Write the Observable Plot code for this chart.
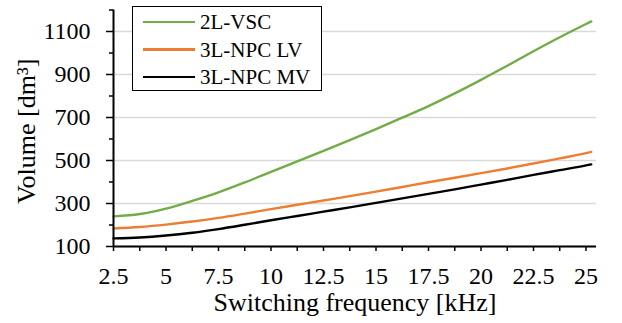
<!DOCTYPE html>
<html><head><meta charset="utf-8">
<script src="https://cdn.jsdelivr.net/npm/d3@7"></script>
<script src="https://cdn.jsdelivr.net/npm/@observablehq/plot@0.6"></script>
<style>
body{margin:0;background:#fff;}
#chart{position:relative;width:622px;height:323px;font-family:"Liberation Serif","Times New Roman",serif;color:#000;}
.lg{position:absolute;}
</style></head><body><div id="chart"></div>
<script>
const freq   = [2.5, 3.75, 5, 6.25, 7.5, 8.75, 10, 11.25, 12.5, 13.75, 15, 16.25, 17.5, 18.75, 20, 21.25, 22.5, 23.75, 25, 25.25];
const vsc2L  = [240, 251, 276, 312, 352, 398, 447, 496, 545, 595, 646, 699, 753, 812, 875, 941, 1008, 1073, 1135, 1147];
const npcLV  = [184, 191, 202, 216, 233, 253, 274, 294, 314, 334, 355, 377, 399, 420, 441, 463, 486, 510, 534, 540];
const npcMV  = [138, 142, 151, 164, 181, 201, 222, 242, 262, 282, 303, 324, 345, 366, 388, 410, 433, 455, 477, 482];
const seriesNames  = ["2L-VSC", "3L-NPC LV", "3L-NPC MV"];
const seriesColors = ["#70AD47", "#ED7D31", "#000000"];
const xTicks      = [2.5, 5, 7.5, 10, 12.5, 15, 17.5, 20, 22.5, 25];
const xMinorTicks = [3.75, 6.25, 8.75, 11.25, 13.75, 16.25, 18.75, 21.25, 23.75];
const yTicks      = [100, 300, 500, 700, 900, 1100];
const yMinorTicks = [200, 400, 600, 800, 1000, 1200];
const xLabel = "Switching frequency [kHz]";
const yLabel = "Volume [dm³]";

const seriesValues = [vsc2L, npcLV, npcMV];
const rows = [];
seriesNames.forEach((s, i) => freq.forEach((f, j) => rows.push({series: s, f, v: seriesValues[i][j]})));
const fmt = d => String(d);

const chart = Plot.plot({
  width: 622, height: 323,
  marginLeft: 113, marginRight: 26, marginTop: 9.5, marginBottom: 77,
  x: {domain: [2.5, 25.5]},
  y: {domain: [100, 1200]},
  color: {domain: seriesNames, range: seriesColors},
  style: {fontFamily: "'Liberation Serif', 'Times New Roman', serif", fontSize: "23px", color: "#000", background: "white", overflow: "visible"},
  marks: [
    Plot.gridY(yTicks, {stroke: "#d9d9d9", strokeOpacity: 1, strokeWidth: 1.4}),
    Plot.line(rows, {x: "f", y: "v", z: "series", stroke: "series", strokeWidth: 2.4, curve: "monotone-x"}),
    Plot.axisY(yTicks, {tickSize: 7, tickPadding: 16, tickFormat: fmt, label: null, strokeWidth: 1.5, fontSize: 24}),
    Plot.axisY(yMinorTicks, {tickSize: 4, text: null, label: null, strokeWidth: 1.5}),
    Plot.axisX(xTicks, {tickSize: 5, tickPadding: 15, tickFormat: fmt, label: null, strokeWidth: 1.5, fontSize: 24}),
    Plot.axisX(xMinorTicks, {tickSize: 5, text: null, label: null, strokeWidth: 1.5}),
    Plot.ruleX([2.5], {strokeWidth: 2}),
    Plot.ruleY([100], {strokeWidth: 2}),
    Plot.text([xLabel], {frameAnchor: "bottom", dy: 64, fontSize: 26, fill: "#000"}),
    Plot.text([yLabel], {frameAnchor: "left", textAnchor: "middle", rotate: -90, dx: -87, dy: 3, fontSize: 26, fill: "#000"})
  ]
});
const root = document.getElementById("chart");
root.appendChild(chart);

// legend overlay
const box = document.createElement("div");
box.className = "lg";
Object.assign(box.style, {left: "132px", top: "6px", width: "190px", height: "85px", boxSizing: "border-box", border: "1.6px solid #000", background: "#fff"});
root.appendChild(box);
const rowY = [22, 49.5, 77];
seriesNames.forEach((s, i) => {
  const sw = document.createElement("div");
  sw.className = "lg";
  Object.assign(sw.style, {left: "143px", top: (rowY[i] - 1.25) + "px", width: "52px", height: "2.5px", background: seriesColors[i]});
  root.appendChild(sw);
  const t = document.createElement("div");
  t.className = "lg";
  t.textContent = s;
  Object.assign(t.style, {left: "200px", top: rowY[i] + "px", transform: "translateY(-50%)", fontSize: "21px", lineHeight: "1", whiteSpace: "nowrap"});
  root.appendChild(t);
});
</script></body></html>
